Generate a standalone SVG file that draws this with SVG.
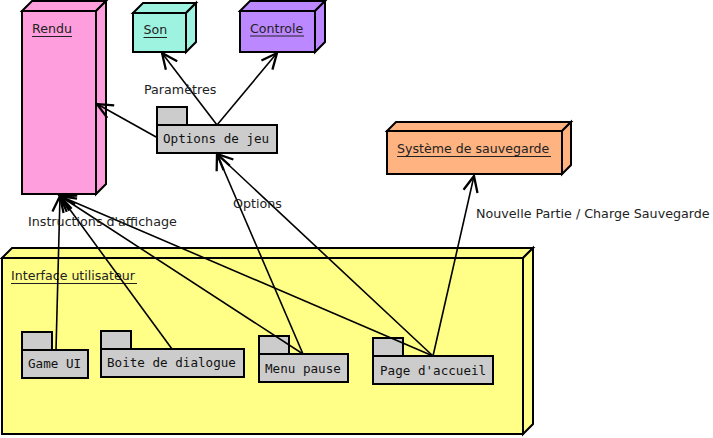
<svg xmlns="http://www.w3.org/2000/svg" width="713" height="438" viewBox="0 0 713 438">
<defs>
<style>
.box{stroke:#000;stroke-width:2;stroke-linejoin:miter}
.pkg{fill:#cccccc;stroke:#000;stroke-width:2}
.lbl{font-family:"DejaVu Sans",sans-serif;font-size:12.6px;fill:#222}
.mono{font-family:"DejaVu Sans Mono",monospace;font-size:12.6px;fill:#111}
.ul{stroke:#222;stroke-width:1}
.conn{fill:none;stroke:#000;stroke-width:1.6}
.elbl{font-family:"DejaVu Sans",sans-serif;font-size:12.7px;fill:#222}
</style>
<marker id="arr" markerUnits="userSpaceOnUse" markerWidth="20" markerHeight="20" refX="0" refY="0" viewBox="-12 -7 14 14" orient="auto">
<path d="M-11,-5 L0,0 L-11,5" fill="none" stroke="#000" stroke-width="1.6"/>
</marker>
</defs>
<rect width="713" height="438" fill="#fff"/>

<g id="interface">
<polygon class="box" fill="#ffff88" points="2,258 12,248 533,248 523,258"/>
<polygon class="box" fill="#ffff88" points="523,258 533,248 533,424 523,434"/>
<rect class="box" fill="#ffff88" x="2" y="258" width="521" height="176"/>
<text class="lbl" x="11" y="280">Interface utilisateur</text>
<line class="ul" x1="11" y1="283.5" x2="137" y2="283.5"/>
</g>

<g id="rendu">
<polygon class="box" fill="#ff9edc" points="22,11 32,1 106,1 96,11"/>
<polygon class="box" fill="#ff9edc" points="96,11 106,1 106,184 96,194"/>
<rect class="box" fill="#ff9edc" x="22" y="11" width="74" height="183"/>
<text class="lbl" x="32" y="33">Rendu</text>
<line class="ul" x1="32" y1="36.5" x2="72" y2="36.5"/>
</g>

<g id="son">
<polygon class="box" fill="#9ef2e0" points="133,13 143,3 196,3 186,13"/>
<polygon class="box" fill="#9ef2e0" points="186,13 196,3 196,42 186,52"/>
<rect class="box" fill="#9ef2e0" x="133" y="13" width="53" height="39"/>
<text class="lbl" x="143.5" y="34">Son</text>
<line class="ul" x1="143.5" y1="37.5" x2="167" y2="37.5"/>
</g>

<g id="controle">
<polygon class="box" fill="#bb88ff" points="240,11 250,1 325,1 315,11"/>
<polygon class="box" fill="#bb88ff" points="315,11 325,1 325,42 315,52"/>
<rect class="box" fill="#bb88ff" x="240" y="11" width="75" height="41"/>
<text class="lbl" x="250" y="33">Controle</text>
<line class="ul" x1="250" y1="36" x2="304" y2="36"/>
</g>

<g id="sauvegarde">
<polygon class="box" fill="#ffb380" points="387,131 396,122 571,122 562,131"/>
<polygon class="box" fill="#ffb380" points="562,131 571,122 571,165 562,174"/>
<rect class="box" fill="#ffb380" x="387" y="131" width="175" height="43"/>
<text class="lbl" x="397" y="153">Système de sauvegarde</text>
<line class="ul" x1="397" y1="156.5" x2="551" y2="156.5"/>
</g>

<g id="options">
<rect class="pkg" x="157" y="107" width="30" height="18"/>
<rect class="pkg" x="157" y="125" width="120" height="28"/>
<text class="mono" x="163" y="143">Options de jeu</text>
</g>

<g id="gameui">
<rect class="pkg" x="22" y="332" width="30" height="18"/>
<rect class="pkg" x="22" y="350" width="66" height="28"/>
<text class="mono" x="28" y="367.5">Game UI</text>
</g>

<g id="boite">
<rect class="pkg" x="101" y="331" width="30" height="18"/>
<rect class="pkg" x="101" y="349" width="143" height="28"/>
<text class="mono" x="107" y="367">Boite de dialogue</text>
</g>

<g id="menupause">
<rect class="pkg" x="259" y="336" width="30" height="18"/>
<rect class="pkg" x="259" y="354" width="89" height="28"/>
<text class="mono" x="265" y="372.5">Menu pause</text>
</g>

<g id="accueil">
<rect class="pkg" x="373" y="338" width="30" height="18"/>
<rect class="pkg" x="373" y="356" width="120" height="28"/>
<text class="mono" x="380" y="374.5">Page d'accueil</text>
</g>

<g id="connectors">
<line class="conn" x1="56" y1="350" x2="60" y2="196" marker-end="url(#arr)"/>
<line class="conn" x1="172" y1="349" x2="60" y2="196" marker-end="url(#arr)"/>
<line class="conn" x1="303" y1="354" x2="60" y2="196" marker-end="url(#arr)"/>
<line class="conn" x1="433" y1="356" x2="60" y2="196" marker-end="url(#arr)"/>
<line class="conn" x1="303" y1="354" x2="217" y2="154" marker-end="url(#arr)"/>
<line class="conn" x1="433" y1="356" x2="217" y2="154" marker-end="url(#arr)"/>
<line class="conn" x1="433" y1="356" x2="474" y2="176" marker-end="url(#arr)"/>
<line class="conn" x1="157" y1="137.5" x2="97" y2="104" marker-end="url(#arr)"/>
<line class="conn" x1="217" y1="125" x2="162" y2="53" marker-end="url(#arr)"/>
<line class="conn" x1="217" y1="125" x2="277" y2="53" marker-end="url(#arr)"/>
<text class="elbl" x="144" y="94">Paramètres</text>
<text class="elbl" x="28" y="226">Instructions d'affichage</text>
<text class="elbl" x="233" y="208">Options</text>
<text class="elbl" x="476" y="218">Nouvelle Partie / Charge Sauvegarde</text>
</g>
</svg>
